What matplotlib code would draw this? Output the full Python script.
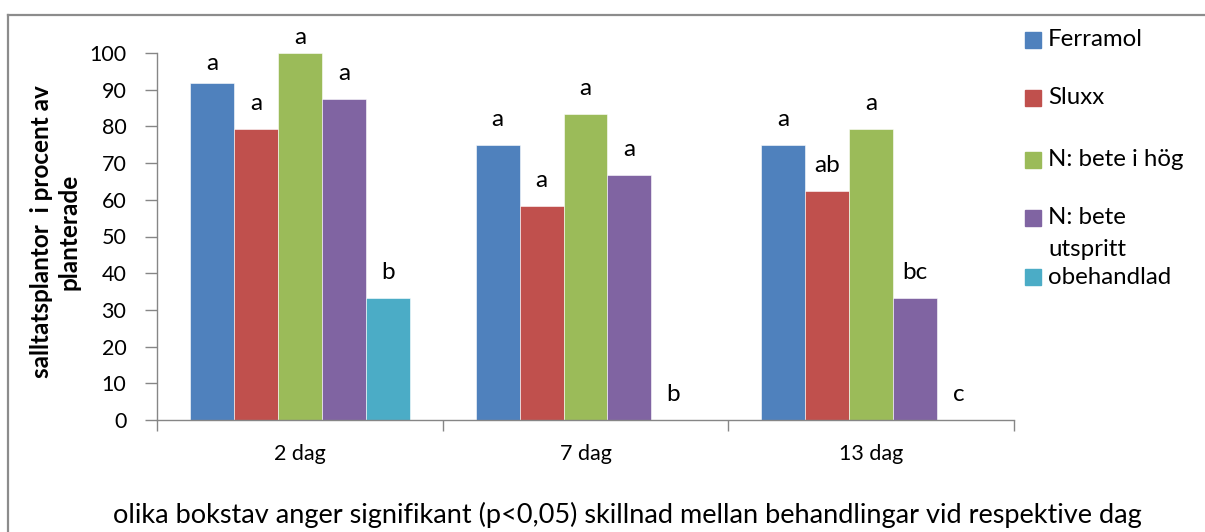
import matplotlib
matplotlib.use("Agg")
import matplotlib.pyplot as plt
from matplotlib.patches import Rectangle
from matplotlib.lines import Line2D
import numpy as np

plt.rcParams['font.family'] = ['Lato', 'DejaVu Sans']

categories = ["2 dag", "7 dag", "13 dag"]
series_names = ["Ferramol", "Sluxx", "N: bete i hög", "N: bete\nutspritt", "obehandlad"]
values = {
    "Ferramol":          [91.7, 75.0, 75.0],
    "Sluxx":             [79.2, 58.3, 62.5],
    "N: bete i hög":     [100.0, 83.3, 79.2],
    "N: bete\nutspritt": [87.5, 66.7, 33.3],
    "obehandlad":        [33.3, 0.0, 0.0],
}
letters = {
    "Ferramol":          ["a", "a", "a"],
    "Sluxx":             ["a", "a", "ab"],
    "N: bete i hög":     ["a", "a", "a"],
    "N: bete\nutspritt": ["a", "a", "bc"],
    "obehandlad":        ["b", "b", "c"],
}
colors = ["#4F81BD", "#C0504D", "#9BBB59", "#8064A2", "#4BACC6"]
ylabel = "salltatsplantor  i procent av\nplanterade"
caption = "olika bokstav anger signifikant (p<0,05) skillnad mellan behandlingar vid respektive dag"
yticks = list(range(0, 101, 10))

# style: gap between bar top and letter baseline (axis units); a few labels sit lower
default_gap = 5.2
gap_override = {("Ferramol", 0): 3.6, ("N: bete i hög", 0): 2.5}

W, H = 1205, 532
fig = plt.figure(figsize=(W / 100, H / 100), dpi=100)
ax = fig.add_axes([157 / W, 1 - 420 / H, (1014 - 157) / W, (420 - 53) / H])

axis_col = "#868686"
n = len(series_names)
bw = 0.154
x = np.arange(len(categories)) + 0.5
for i, name in enumerate(series_names):
    offs = (i - (n - 1) / 2) * bw
    ax.bar(x + offs, values[name], width=bw, color=colors[i], edgecolor='white', linewidth=0.4)
    for j, (xi, v, lab) in enumerate(zip(x + offs, values[name], letters[name])):
        g = gap_override.get((name, j), default_gap)
        ax.text(xi, v + g, lab, ha='center', va='baseline', fontsize=17.5, clip_on=False)

ax.set_xlim(0, len(categories))
ax.set_ylim(0, 100)
ax.set_yticks(yticks)
ax.tick_params(axis='y', direction='out', length=9, width=1, color=axis_col, labelsize=15.5, pad=13)
ax.set_xticks(np.arange(len(categories) + 1))
ax.set_xticklabels([])
ax.set_xticks(x, minor=True)
ax.set_xticklabels(categories, minor=True)
ax.tick_params(axis='x', which='major', direction='out', length=8, width=1, color=axis_col)
ax.tick_params(axis='x', which='minor', length=0, labelsize=15.5, pad=17)
for s in ['top', 'right']:
    ax.spines[s].set_visible(False)
for s in ['left', 'bottom']:
    ax.spines[s].set_color(axis_col)
    ax.spines[s].set_linewidth(1)

fig.text(55 / W, 1 - 232 / H, ylabel, rotation=90, ha='center', va='center',
         fontsize=17.5, fontweight='bold', linespacing=1.25, multialignment='center')

fig.text(627 / W, 1 - 515 / H, caption, ha='center', va='center', fontsize=19.5)

# legend (manual, Excel-like)
leg_y = [40, 98, 160, 218, 277]
for i, name in enumerate(series_names):
    yc = leg_y[i]
    fig.patches.append(Rectangle((1025 / W, 1 - (yc + 8) / H), 16 / W, 16 / H,
                                 transform=fig.transFigure, color=colors[i]))
    for k, line in enumerate(name.split("\n")):
        fig.text(1048 / W, 1 - (yc + 31 * k) / H, line, ha='left', va='center',
                 fontsize=17.3)

# chart frame
fc = "#8c8c8c"
fig.add_artist(Line2D([8 / W, 8 / W], [0, 1 - 15 / H], transform=fig.transFigure, color=fc, lw=1.6))
fig.add_artist(Line2D([8 / W, 1], [1 - 15 / H, 1 - 15 / H], transform=fig.transFigure, color=fc, lw=1.6))

fig.savefig("out.png", dpi=100)
